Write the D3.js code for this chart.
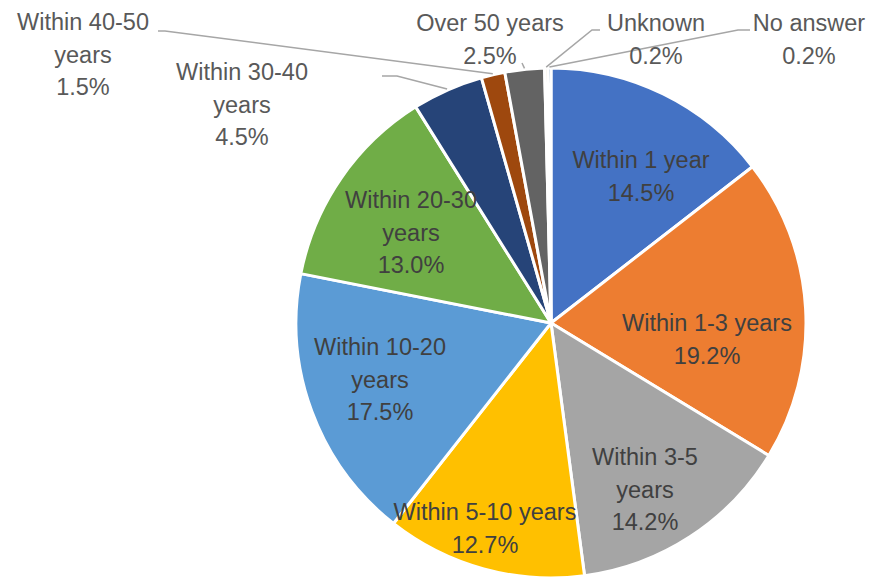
<!DOCTYPE html>
<html lang="en">
<head>
<meta charset="UTF-8">
<title>Years pie</title>
<style>
  html, body { margin: 0; padding: 0; background: #fff; }
  svg { display: block; }
  text { font-family: "Liberation Sans", Arial, sans-serif; }
</style>
</head>
<body>
<svg id="chart" width="872" height="579"></svg>
<script src="https://d3js.org/d3.v7.min.js"></script>
<script>
// --- data ---
const categories = [
  "Within 1 year", "Within 1-3 years", "Within 3-5 years", "Within 5-10 years",
  "Within 10-20 years", "Within 20-30 years", "Within 30-40 years",
  "Within 40-50 years", "Over 50 years", "Unknown", "No answer"
];
const shares = [14.5, 19.2, 14.2, 12.7, 17.5, 13.0, 4.5, 1.5, 2.5, 0.2, 0.2];
const colors = [
  "#4472C4", "#ED7D31", "#A5A5A5", "#FFC000", "#5B9BD5", "#70AD47",
  "#264478", "#9E480E", "#636363", "#997300", "#255E91"
];

// --- layout: label centers (first line), wrapping, leader knees ---
const labelLayout = {
  "Within 1 year":      { x: 641, y: 160, wrap: false, inside: true },
  "Within 1-3 years":   { x: 707, y: 323, wrap: false, inside: true },
  "Within 3-5 years":   { x: 645, y: 457, wrap: true,  inside: true },
  "Within 5-10 years":  { x: 485, y: 512, wrap: false, inside: true },
  "Within 10-20 years": { x: 380, y: 347, wrap: true,  inside: true },
  "Within 20-30 years": { x: 411, y: 200, wrap: true,  inside: true },
  "Within 30-40 years": { x: 242, y: 72,  wrap: true,  leader: [[382, 76], [397, 76]] },
  "Within 40-50 years": { x: 83,  y: 22,  wrap: true,  leader: [[158, 31], [165, 31]] },
  "Over 50 years":      { x: 490, y: 23,  wrap: false, leader: [[522, 63]] },
  "Unknown":            { x: 656, y: 23,  wrap: false, leader: [[600, 30], [592, 30]] },
  "No answer":          { x: 809, y: 23,  wrap: false, leader: [[750, 30], [738, 30]] }
};

const cx = 551, cy = 323, radius = 255;
const lineGap = 32.5;

const svg = d3.select("#chart");
const g = svg.append("g").attr("transform", `translate(${cx},${cy})`);

const data = categories.map((c, i) => ({ name: c, value: shares[i], color: colors[i] }));

const pie = d3.pie().sort(null).value(d => d.value);
const arc = d3.arc().innerRadius(0).outerRadius(radius);
const arcs = pie(data);

g.selectAll("path.slice")
  .data(arcs)
  .join("path")
  .attr("class", "slice")
  .attr("d", arc)
  .attr("fill", d => d.data.color)
  .attr("stroke", "#fff")
  .attr("stroke-width", 3)
  .attr("stroke-linejoin", "round");

// leader lines (drawn in page coords)
const leaders = svg.append("g");
arcs.forEach(d => {
  const lay = labelLayout[d.data.name];
  if (!lay.leader) return;
  const mid = (d.startAngle + d.endAngle) / 2;
  const r = radius + 1;
  const end = [cx + r * Math.sin(mid), cy - r * Math.cos(mid)];
  const pts = lay.leader.concat([end]);
  leaders.append("path")
    .attr("d", d3.line()(pts))
    .attr("fill", "none")
    .attr("stroke", "#A6A6A6")
    .attr("stroke-width", 1.5);
});

// labels
const labels = svg.append("g");
arcs.forEach(d => {
  const lay = labelLayout[d.data.name];
  let lines;
  if (lay.wrap) {
    const k = d.data.name.lastIndexOf(" ");
    lines = [d.data.name.slice(0, k), d.data.name.slice(k + 1)];
  } else {
    lines = [d.data.name];
  }
  lines.push(d.data.value.toFixed(1) + "%");
  const t = labels.append("text")
    .attr("text-anchor", "middle")
    .attr("font-size", 23.5)
    .attr("fill", lay.inside ? "#404040" : "#595959");
  lines.forEach((s, i) => {
    t.append("tspan")
      .attr("x", lay.x)
      .attr("y", lay.y + i * lineGap)
      .attr("dy", "0.35em")
      .text(s);
  });
});
</script>
</body>
</html>
